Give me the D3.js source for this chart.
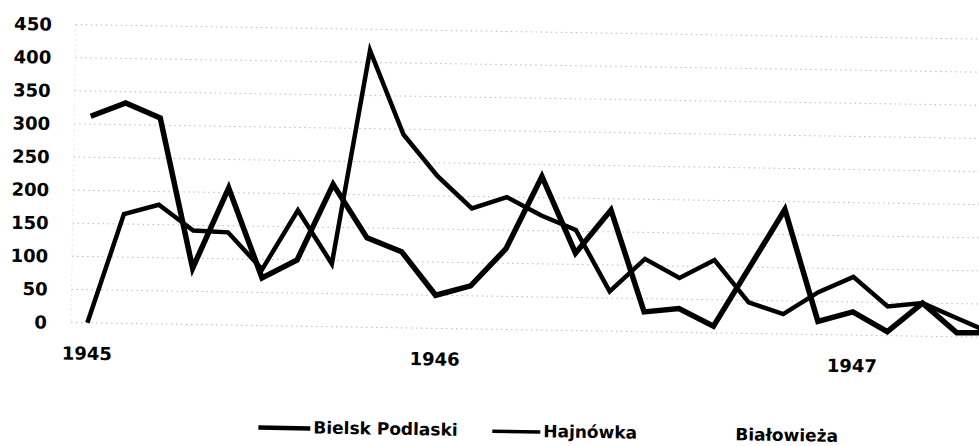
<!DOCTYPE html>
<html>
<head>
<meta charset="utf-8">
<script src="https://cdn.jsdelivr.net/npm/d3@7"></script>
<style>
  body { margin: 0; background: #fff; }
  svg { display: block; }
  text { font-family: "DejaVu Sans", sans-serif; font-weight: bold; fill: #000; }
</style>
</head>
<body>
<svg id="chart" width="979" height="446"></svg>
<script>

// months, March 1945 .. May 1947
var categories = ["1945-03","1945-04","1945-05","1945-06","1945-07","1945-08","1945-09","1945-10","1945-11","1945-12",
                  "1946-01","1946-02","1946-03","1946-04","1946-05","1946-06","1946-07","1946-08","1946-09","1946-10","1946-11","1946-12",
                  "1947-01","1947-02","1947-03","1947-04","1947-05"]

var tick_cats = ["1945-03", "1946-01", "1947-01"]
var tick_labels = ["1945", "1946", "1947"]

var y_ticks = [0, 50, 100, 150, 200, 250, 300, 350, 400, 450]

var series_names = ["Bielsk Podlaski", "Hajnówka", "Białowieża"]

var bielsk = [312, 333, 311, 85, 207, 72, 100, 215, 135, 115, 50, 65, 122, 232, 117, 183, 30, 36, 10, 99, 188, 20, 35, 6, 50, 6, 7]
var hajnowka = [0, 165, 180, 142, 140, 85, 175, 95, 418, 292, 230, 182, 200, 173, 152, 60, 110, 82, 110, 47, 30, 64, 88, 44, 50, 28, 6]

var svg = d3.select("#chart")

// the scan is tilted by about a degree, so everything sits in a rotated group
var g = svg.append("g").attr("transform", "rotate(0.92, 100, 323)")

var x = d3.scaleBand().domain(categories).range([70, 70 + 34.78 * categories.length]).padding(0)
var y = d3.scaleLinear().domain([0, 450]).range([323, 25])

function cx(c) { return x(c) + x.bandwidth() / 2; }

// gridlines
g.selectAll(".grid").data(y_ticks).enter().append("line")
  .attr("class", "grid")
  .attr("x1", 71)
  .attr("x2", 1010)
  .attr("y1", function(d){ return y(d); })
  .attr("y2", function(d){ return y(d); })
  .style("stroke", "#aaa")
  .style("stroke-width", 0.8)
  .style("stroke-dasharray", "1.5,3.5")

g.append("line")
  .attr("x1", 71).attr("x2", 71)
  .attr("y1", y(450)).attr("y2", y(0))
  .style("stroke", "#ccc")
  .style("stroke-width", 0.8)
  .style("stroke-dasharray", "1,4")

// y labels
g.selectAll(".ylab").data(y_ticks).enter().append("text")
  .attr("class", "ylab")
  .attr("x", 47)
  .attr("y", function(d){ return y(d); })
  .attr("dy", "0.36em")
  .attr("text-anchor", "end")
  .style("font-size", "18px")
  .text(function(d){ return d; })

// x labels
g.selectAll(".xlab").data(tick_cats).enter().append("text")
  .attr("class", "xlab")
  .attr("x", function(d){ return cx(d); })
  .attr("y", 360)
  .attr("text-anchor", "middle")
  .style("font-size", "18px")
  .text(function(d, i){ return tick_labels[i]; })

// lines
var line = d3.line()
  .x(function(d, i){ return cx(categories[i]); })
  .y(function(d){ return y(d); })

g.append("path")
  .datum(hajnowka)
  .attr("d", line)
  .style("fill", "none")
  .style("stroke", "#000")
  .style("stroke-width", 4.5)
  .style("stroke-linejoin", "miter")
  .style("stroke-miterlimit", 6)

g.append("path")
  .datum(bielsk)
  .attr("d", line)
  .style("fill", "none")
  .style("stroke", "#000")
  .style("stroke-width", 5.5)
  .style("stroke-linejoin", "miter")
  .style("stroke-miterlimit", 6)

// legend
var legend = [
  {name: series_names[0], sx: 260, sw: 52, w: 4.5, tx: 315},
  {name: series_names[1], sx: 494, sw: 48, w: 3.5, tx: 545},
  {name: series_names[2], sx: 0, sw: 0, w: 0, tx: 737}
]

legend.forEach(function(d){
  if (d.sw > 0) {
    g.append("line")
      .attr("x1", d.sx).attr("x2", d.sx + d.sw)
      .attr("y1", 425).attr("y2", 425)
      .style("stroke", "#000")
      .style("stroke-width", d.w)
  }
  g.append("text")
    .attr("x", d.tx)
    .attr("y", 430)
    .style("font-size", "17px")
    .text(d.name)
})

</script>
</body>
</html>
